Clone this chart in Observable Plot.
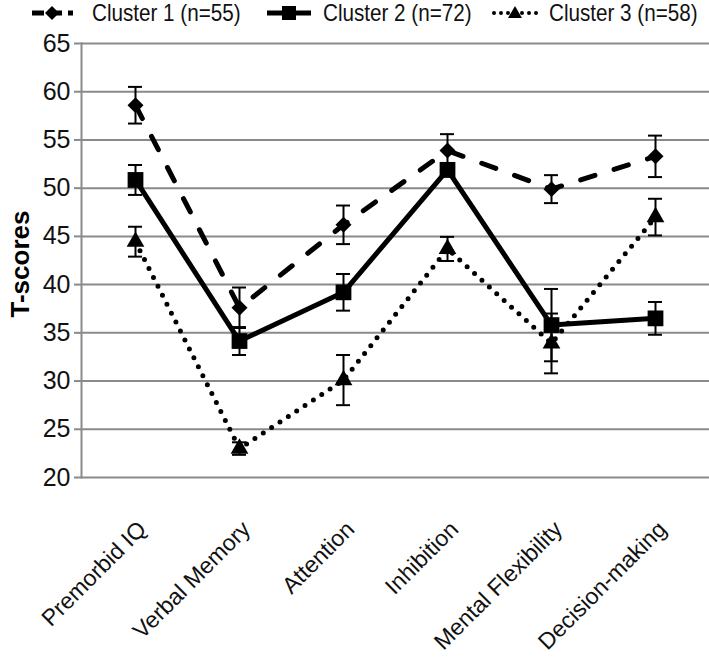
<!DOCTYPE html>
<html><head><meta charset="utf-8">
<script src="https://cdn.jsdelivr.net/npm/d3@7"></script>
<script src="https://cdn.jsdelivr.net/npm/@observablehq/plot@0.6"></script>
<style>
body{margin:0;background:#fff;font-family:"Liberation Sans",Arial,sans-serif;}
#wrap{position:relative;width:709px;height:660px;background:#fff;overflow:hidden;}
#legend{position:relative;height:24px;width:709px;}
.li{position:absolute;top:0;height:26px;display:flex;align-items:center;font-family:"Liberation Sans",Arial,sans-serif;font-size:24px;color:#111;white-space:nowrap;transform:scaleX(0.86);transform-origin:0 50%;}
.sw{position:absolute;top:1px;}
</style></head><body>
<div id="wrap"><div id="legend"></div><div id="chart"></div></div>
<script>
const categories = ["Premorbid IQ", "Verbal Memory", "Attention", "Inhibition", "Mental Flexibility", "Decision-making"];
const seriesNames = ["Cluster 1 (n=55)", "Cluster 2 (n=72)", "Cluster 3 (n=58)"];
const cluster1 = [58.6, 37.6, 46.2, 53.9, 49.9, 53.3];
const cluster1Err = [1.9, 2.1, 2.0, 1.7, 1.45, 2.15];
const cluster2 = [50.85, 34.15, 39.2, 51.9, 35.8, 36.5];
const cluster2Err = [1.55, 1.45, 1.9, 0.7, 3.75, 1.7];
const cluster3 = [44.45, 23.0, 30.1, 43.7, 33.9, 47.0];
const cluster3Err = [1.55, 0.65, 2.6, 1.25, 3.1, 1.9];
const yTicks = [20, 25, 30, 35, 40, 45, 50, 55, 60, 65];

const seriesVals = [cluster1, cluster2, cluster3];
const seriesErrs = [cluster1Err, cluster2Err, cluster3Err];
const rows = [];
seriesNames.forEach((s, i) => categories.forEach((c, j) => rows.push({
  series: s, category: c, value: seriesVals[i][j], lo: seriesVals[i][j] - seriesErrs[i][j], hi: seriesVals[i][j] + seriesErrs[i][j]
})));
const bySeries = s => rows.filter(r => r.series === s);

const styles = [
  {dash: "15,20", symbol: "diamond2", r: 7.2},
  {dash: null, symbol: "square", r: 8.9},
  {dash: "0,10", symbol: "triangle", r: 6.6}
];

// Legend
const legend = document.getElementById("legend");
const swX = [28, 265, 491], txX = [92, 323, 549];
seriesNames.forEach((s, i) => {
  const sw = document.createElementNS("http://www.w3.org/2000/svg", "svg");
  sw.setAttribute("width", 48); sw.setAttribute("height", 24);
  sw.setAttribute("class", "sw"); sw.style.left = swX[i] + "px";
  let line = "";
  if (i === 0) line = `<line x1="3" y1="12" x2="45" y2="12" stroke="#000" stroke-width="5" stroke-dasharray="12,6" stroke-dashoffset="-1"/>`;
  if (i === 1) line = `<line x1="2" y1="12" x2="46" y2="12" stroke="#000" stroke-width="5"/>`;
  if (i === 2) line = `<line x1="3" y1="12" x2="46" y2="12" stroke="#000" stroke-width="4" stroke-linecap="round" stroke-dasharray="0,7"/>`;
  let mk = "";
  if (i === 0) mk = `<path d="M24,5L31,12L24,19L17,12Z" fill="#000"/>`;
  if (i === 1) mk = `<rect x="17" y="5" width="14" height="14" fill="#000"/>`;
  if (i === 2) mk = `<path d="M24,5L31,17L17,17Z" fill="#000"/>`;
  sw.innerHTML = line + mk;
  legend.appendChild(sw);
  const t = document.createElement("div");
  t.className = "li"; t.style.left = txX[i] + "px"; t.textContent = s;
  legend.appendChild(t);
});

const marks = [
  Plot.ruleY(yTicks, {stroke: "#8a8a8a", strokeWidth: 2}),
  Plot.frame({anchor: "left", stroke: "#8a8a8a", strokeWidth: 2}),
  Plot.axisY({ticks: yTicks, tickSize: 7, tickPadding: 4, stroke: "#8a8a8a", strokeWidth: 2, fill: "#111", fontSize: 25, label: null}),
  Plot.axisX({tickRotate: -45, tickSize: 0, tickPadding: 48, dx: 7, fontSize: 23, fill: "#111", label: null}),
  Plot.text(["T-scores"], {frameAnchor: "left", rotate: -90, dx: -61, dy: 57, text: d => d, fontWeight: "bold", fontSize: 26, fill: "#000"})
];
seriesNames.forEach((s, i) => {
  const st = styles[i];
  marks.push(Plot.line(bySeries(s), {x: "category", y: "value", stroke: "#000", strokeWidth: 5,
    strokeDasharray: st.dash, strokeLinecap: i === 1 ? "butt" : "round", strokeLinejoin: "round"}));
});
seriesNames.forEach((s, i) => {
  marks.push(Plot.ruleX(bySeries(s), {x: "category", y1: "lo", y2: "hi", stroke: "#000", strokeWidth: 2}));
  marks.push(Plot.tickY(bySeries(s), {x: "category", y: "lo", stroke: "#000", strokeWidth: 2, insetLeft: 45, insetRight: 45}));
  marks.push(Plot.tickY(bySeries(s), {x: "category", y: "hi", stroke: "#000", strokeWidth: 2, insetLeft: 45, insetRight: 45}));
});
seriesNames.forEach((s, i) => {
  const st = styles[i];
  marks.push(Plot.dot(bySeries(s), {x: "category", y: "value", symbol: () => st.symbol, r: st.r, fill: "#000", stroke: "none"}));
});

const chart = Plot.plot({
  width: 709, height: 636,
  marginTop: 19, marginBottom: 183, marginLeft: 81, marginRight: 0,
  x: {type: "band", domain: categories, padding: 0, label: null, axis: null},
  y: {domain: [20, 65], label: null, axis: null},
  symbol: {type: "identity"},
  style: {fontFamily: "'Liberation Sans', Arial, sans-serif", background: "white", overflow: "visible", color: "#111"},
  marks
});
document.getElementById("chart").appendChild(chart);
</script>
</body></html>
